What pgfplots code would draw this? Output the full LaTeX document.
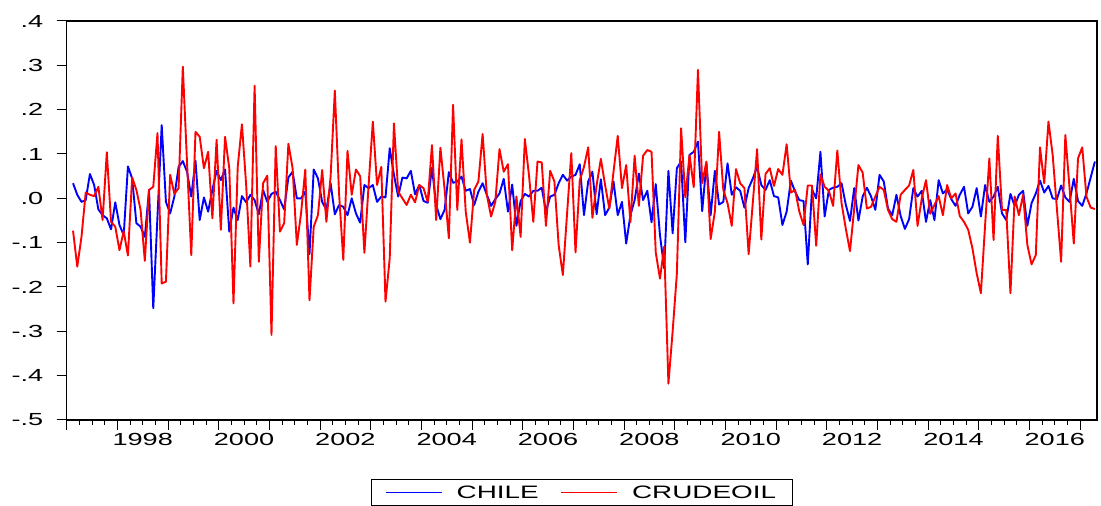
\documentclass[border=0pt]{standalone}
\usepackage{fontspec}
\setmainfont{Liberation Sans}[FakeStretch=1.55]
\usepackage{pgfplots}
\usepackage{pgfplotstable}
\pgfplotsset{compat=1.18}

% monthly returns, 1997M02 .. 2017M04 (one row per month)
\pgfplotstableread{
chile crude
0.034 -0.073
0.008 -0.154
-0.008 -0.087
-0.004 0.013
0.055 0.008
0.03 0.005
-0.025 0.026
-0.038 -0.049
-0.045 0.104
-0.07 -0.053
-0.009 -0.064
-0.06 -0.117
-0.083 -0.074
0.072 -0.129
0.045 0.047
-0.056 0.019
-0.064 -0.026
-0.087 -0.141
0.019 0.019
-0.248 0.026
-0.04 0.147
0.165 -0.192
-0.008 -0.188
-0.034 0.053
0.004 0.01
0.071 0.023
0.084 0.297
0.06 0.08
0.004 -0.128
0.085 0.15
-0.049 0.139
0.002 0.068
-0.03 0.105
0.019 -0.045
0.062 0.132
0.041 -0.071
0.065 0.139
-0.075 0.068
-0.021 -0.237
-0.049 0.071
0.005 0.167
-0.009 0.03
0.008 -0.154
-0.004 0.254
-0.036 -0.143
0.019 0.034
-0.008 0.051
0.01 -0.308
0.015 0.118
-0.004 -0.075
-0.025 -0.056
0.047 0.123
0.06 0.068
0 -0.105
0 -0.034
0.015 0.065
-0.126 -0.23
0.065 -0.064
0.045 -0.038
-0.008 0.064
-0.026 -0.053
0.034 0.049
-0.036 0.243
-0.015 0.011
-0.019 -0.139
-0.038 0.107
0 0.008
-0.034 0.065
-0.055 0.05
0.03 -0.123
0.023 0.03
0.03 0.173
-0.008 0.03
0.004 0.071
0.002 -0.233
0.113 -0.135
0.053 0.169
0.004 0.015
0.047 0
0.045 -0.015
0.062 0.008
0.009 -0.009
0.03 0.03
-0.006 0.023
-0.01 -0.008
0.069 0.12
-0.015 -0.049
-0.047 0.114
-0.026 0.02
0.059 -0.09
0.035 0.211
0.038 -0.026
0.049 0.133
0.017 -0.03
0.021 -0.1
-0.015 0.019
0.015 0.038
0.034 0.145
0.008 0.008
-0.017 -0.041
-0.002 -0.008
0.011 0.111
0.044 0.06
-0.03 0.077
0.031 -0.117
-0.062 0.004
-0.006 -0.087
0.01 0.134
0.004 0.05
0.017 -0.053
0.017 0.083
0.024 0.081
-0.03 -0.062
0.004 0.062
0.008 0.038
0.034 -0.105
0.053 -0.173
0.04 -0.034
0.049 0.102
0.053 -0.122
0.077 0.04
-0.038 0.071
0.038 0.115
0.06 -0.044
-0.036 0.03
0.043 0.089
-0.038 0.03
-0.021 -0.023
0.038 0.06
-0.038 0.141
-0.008 0.023
-0.102 0.075
-0.038 -0.054
-0.004 0.096
0.056 -0.017
-0.004 0.096
0.017 0.109
-0.054 0.105
0.032 -0.122
-0.083 -0.181
-0.158 -0.109
0.062 -0.418
-0.079 -0.3
0.068 -0.17
0.083 0.158
-0.099 0.002
0.098 0.098
0.105 0.025
0.128 0.29
-0.029 0.034
0.079 0.083
-0.038 -0.092
0.062 -0.03
-0.014 0.15
-0.008 0.019
0.079 -0.011
0.008 -0.062
0.025 0.066
0.017 0.034
-0.021 0.023
0.023 -0.126
0.045 -0.008
0.071 0.111
0.03 -0.093
0.019 0.055
0.041 0.068
0.005 0.028
0.002 0.066
-0.06 0.053
-0.03 0.122
0.04 0.013
0.015 0.019
-0.004 -0.03
-0.006 -0.06
-0.149 0.029
0.02 0.029
0.0 -0.107
0.105 0.054
-0.041 0.026
0.019 0.017
0.024 -0.017
0.026 0.108
0.034 -0.011
-0.014 -0.068
-0.051 -0.119
0.023 -0.023
-0.05 0.075
0.004 0.058
0.024 -0.023
0.004 -0.019
-0.026 0.004
0.053 0.026
0.038 0.019
-0.023 -0.026
-0.038 -0.047
0.008 -0.053
-0.04 0.008
-0.069 0.019
-0.047 0.029
0.023 0.064
0.004 -0.062
0.017 0
-0.053 0.041
-0.004 -0.035
-0.049 -0.015
0.041 0.005
0.011 -0.038
0.02 0.03
-0.002 0
-0.017 0.011
0.008 -0.04
0.026 -0.053
-0.034 -0.071
-0.019 -0.113
0.023 -0.169
-0.041 -0.214
0.03 -0.06
-0.008 0.09
0.004 -0.094
0.026 0.141
-0.034 -0.026
-0.049 -0.026
0.01 -0.214
-0.017 0.004
0.008 -0.038
0.017 0.008
-0.062 -0.105
-0.011 -0.149
0.011 -0.128
0.04 0.115
0.013 0.034
0.028 0.173
0 0.098
-0.002 -0.023
0.029 -0.143
0.002 0.143
-0.008 0.023
0.044 -0.102
-0.006 0.09
-0.017 0.115
0.011 0.004
0.047 -0.021
0.083 -0.024
}\returns

\begin{document}
\begin{tikzpicture}
\begin{axis}[
    at={(0pt,0pt)}, anchor=south west,
    scale only axis,
    width=1030.3pt, height=399pt,
    xmin=0, xmax=244,
    ymin=-0.5, ymax=0.4,
    axis line style={line width=1.2pt, black},
    tick align=outside,
    tick pos=left,
    major tick length=10pt,
    minor tick length=5pt,
    tick style={line width=1pt, black},
    xtick={0,12,...,240},
    xticklabels={},
    minor x tick num=3,
    extra x ticks={18,42,66,90,114,138,162,186,210,234},
    extra x tick labels={1998,2000,2002,2004,2006,2008,2010,2012,2014,2016},
    extra x tick style={tick style={draw=none}},
    ytick={-0.5,-0.4,-0.3,-0.2,-0.1,0,0.1,0.2,0.3,0.4},
    yticklabels={-.5,-.4,-.3,-.2,-.1,.0,.1,.2,.3,.4},
    ticklabel style={font=\fontsize{17.5}{20}\selectfont},
    yticklabel style={xshift=-10pt},
    legend columns=2,
    legend style={
        at={(0.5,-0.148)}, anchor=north,
        draw=black, line width=1pt,
        font=\fontsize{18}{21}\selectfont,
        inner xsep=14pt, inner ysep=4pt,
        /tikz/every odd column/.append style={column sep=12pt},
        /tikz/every even column/.append style={column sep=20pt},
    },
    legend image code/.code={\draw[#1, line width=1.2pt] (0pt,0pt) -- (56pt,0pt);},
]
\addplot[blue, line width=1.9pt, line join=round] table[x expr=\coordindex+1.5, y=chile] {\returns};
\addlegendentry{CHILE}
\addplot[red, line width=1.9pt, line join=round] table[x expr=\coordindex+1.5, y=crude] {\returns};
\addlegendentry{CRUDEOIL}
\end{axis}
\pgfresetboundingbox
\path[use as bounding box] (-66.7pt,-86pt) rectangle (1034.3pt,420pt);
\end{tikzpicture}
\end{document}
